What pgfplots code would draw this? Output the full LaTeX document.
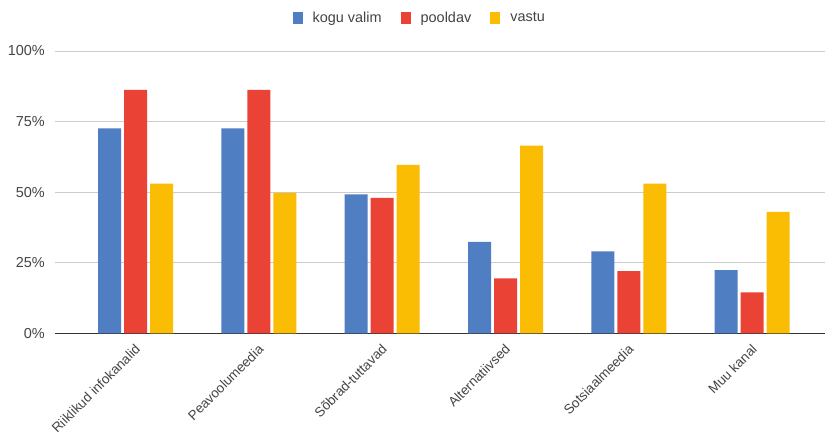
\documentclass[border=0pt]{standalone}
\usepackage{pgfplots}
\pgfplotsset{compat=1.18}
\usepackage{fontspec}
\setmainfont{Liberation Sans}

\definecolor{cblue}{HTML}{4F7EC2}
\definecolor{cred}{HTML}{EA4335}
\definecolor{cyellow}{HTML}{FBBC04}
\definecolor{cgrid}{HTML}{CCCCCC}
\definecolor{ctext}{HTML}{444444}

\begin{document}
\begin{tikzpicture}
  \path[use as bounding box] (-55bp,-106.7bp) rectangle (770bp,333.3bp);
  \begin{axis}[
    at={(0,0)}, anchor=south west,
    scale only axis,
    width=770bp, height=282.3bp,
    xmin=-0.653, xmax=5.59,
    ymin=0, ymax=100,
    ybar=3bp, bar width=23bp,
    axis x line=bottom, axis y line=left,
    axis line style={-},
    x axis line style={draw=black!80, line width=1.2bp},
    y axis line style={draw=none},
    major tick length=0pt,
    ytick={0,25,50,75,100},
    yticklabel={\pgfmathprintnumber{\tick}\%},
    yticklabel style={inner sep=0pt, xshift=-10bp, font=\fontsize{14.5}{16}\selectfont, color=ctext},
    ymajorgrids, grid style={cgrid, line width=0.8bp},
    xtick=data,
    xticklabels={Riiklikud infokanalid,Peavoolumeedia,Sõbrad-tuttavad,Alternatiivsed,Sotsiaalmeedia,Muu kanal},
    xticklabel style={rotate=45, anchor=north east, inner sep=2bp, yshift=-4bp, xshift=-6bp, font=\fontsize{13.5}{15}\selectfont, color=ctext},
    /pgf/number format/assume math mode=true,
    legend columns=3,
    legend style={at={(0.473,1.117)}, anchor=center, draw=none, font=\fontsize{14.5}{16}\selectfont, text=ctext,
      /tikz/every even column/.append style={column sep=18bp}},
    legend image code/.code={\fill[#1] (0bp,-6bp) rectangle (10bp,6bp);},
    legend cell align=left,
    legend style={/tikz/every odd column/.append style={}, nodes={inner sep=1bp}},
  ]
    \addplot[draw=none, fill=cblue] coordinates {(0,72.6) (1,72.6) (2,49.2) (3,32.4) (4,29.0) (5,22.4)};
    \addplot[draw=none, fill=cred] coordinates {(0,86.2) (1,86.2) (2,48.0) (3,19.5) (4,22.0) (5,14.5)};
    \addplot[draw=none, fill=cyellow] coordinates {(0,53.0) (1,49.7) (2,59.7) (3,66.5) (4,53.0) (5,43.0)};
    \addlegendentry{\hspace{9bp}kogu valim}
    \addlegendentry{\hspace{9bp}pooldav}
    \addlegendentry{\hspace{9bp}vastu}
  \end{axis}
\end{tikzpicture}
\end{document}
